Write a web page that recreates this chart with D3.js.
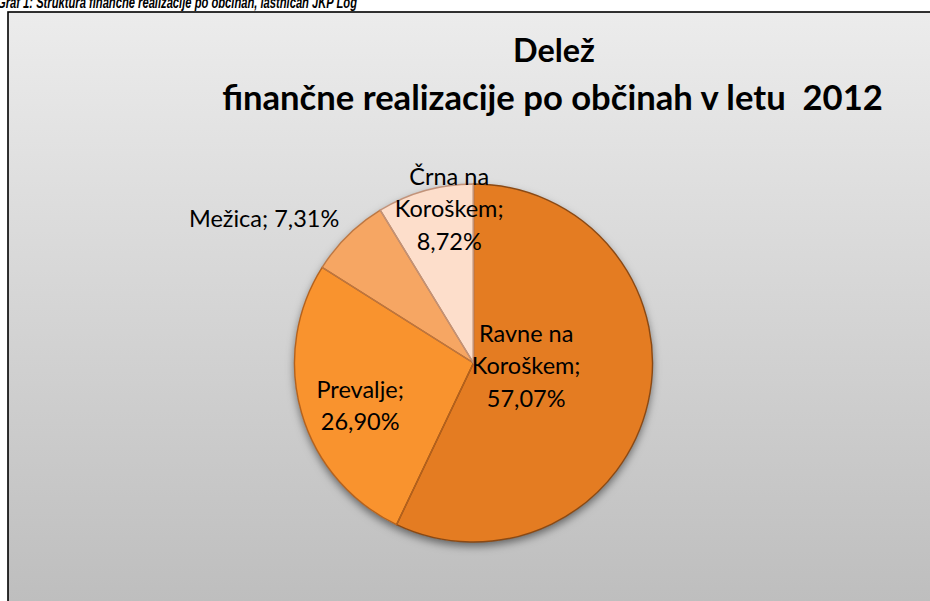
<!DOCTYPE html>
<html>
<head>
<meta charset="utf-8">
<script src="https://cdn.jsdelivr.net/npm/d3@7"></script>
<style>
  html, body { margin: 0; padding: 0; background: #fff; overflow: hidden; }
  svg { display: block; }
</style>
</head>
<body>
<div id="chart"></div>
<script>
// ---- data ----
const caption = "Graf 1: Struktura finančne realizacije po občinah, lastnicah JKP Log";
const titleLines = ["Delež", "finančne realizacije po občinah v letu  2012"];
const categories = ["Ravne na Koroškem", "Prevalje", "Mežica", "Črna na Koroškem"];
const values = [57.07, 26.90, 7.31, 8.72];

// ---- styles / layout ----
const W = 930, H = 601;
const cx = 473.5, cy = 363, R = 179;
const sliceTop = ["#e47b24", "#f9932f", "#f6a663", "#fddecb"];
const sliceBottom = ["#a5541a", "#d77824", "#e8904c", "#eeb392"];
const sliceEdge = ["#8a4914", "#b5621d", "#bd7742", "#c2937a"];
const labelWrap = [[2, 1, 1], [1, 1], [2], [2, 1, 1]];
const labelRadius = [54, 118, 250, 160];
const labelShift = [[0, -9], [0, 10], [-34, 34], [19, 0]];
const labelFont = 23.5, labelLineH = 32.5;

const fmt = v => d3.format(".2f")(v).replace(".", ",") + "%";

const svg = d3.select("#chart").append("svg").attr("width", W).attr("height", H);
const defs = svg.append("defs");

const bg = defs.append("linearGradient").attr("id", "bg")
  .attr("gradientUnits", "userSpaceOnUse").attr("x1", 0).attr("y1", 12).attr("x2", 0).attr("y2", H);
bg.append("stop").attr("offset", 0).attr("stop-color", "#ececec");
bg.append("stop").attr("offset", 1).attr("stop-color", "#bebebe");

const sh = defs.append("filter").attr("id", "shadow").attr("x", "-20%").attr("y", "-20%").attr("width", "140%").attr("height", "140%");
sh.append("feDropShadow").attr("dx", 0).attr("dy", 4).attr("stdDeviation", 4)
  .attr("flood-color", "#000").attr("flood-opacity", 0.5);

categories.forEach((c, i) => {
  const g = defs.append("linearGradient").attr("id", "sg" + i)
    .attr("gradientUnits", "userSpaceOnUse").attr("x1", 0).attr("y1", cy - R).attr("x2", 0).attr("y2", cy + R);
  g.append("stop").attr("offset", 0).attr("stop-color", sliceTop[i]);
  g.append("stop").attr("offset", 1).attr("stop-color", sliceBottom[i]);
});

// caption
svg.append("text").attr("x", -3).attr("y", 7.5)
  .attr("font-family", "'Liberation Sans', Arial, sans-serif")
  .attr("font-weight", "bold").attr("font-style", "italic").attr("font-size", 17)
  .attr("textLength", 360).attr("lengthAdjust", "spacingAndGlyphs")
  .attr("fill", "#000").text(caption);

// chart frame
svg.append("rect").attr("x", 8).attr("y", 12).attr("width", W + 20).attr("height", H)
  .attr("fill", "url(#bg)").attr("stroke", "#000").attr("stroke-width", 1.6);

// title
const titleG = svg.append("g").attr("font-family", "Lato, 'Open Sans', sans-serif")
  .attr("font-weight", "bold").attr("fill", "#000").attr("text-anchor", "middle")
  .style("white-space", "pre");
const tw = [82, 661];
const tx = [554, 552.5];
const ty = [62, 110];
titleLines.forEach((t, i) => {
  const el = titleG.append("text").attr("x", tx[i]).attr("y", ty[i]).attr("font-size", 30)
    .attr("xml:space", "preserve").text(t);
  const w = el.node().getComputedTextLength();
  el.attr("font-size", 30 * tw[i] / w);
});

// pie
const pie = d3.pie().sort(null).value(d => d.value);
const arcs = pie(categories.map((c, i) => ({ name: c, value: values[i], i })));
const arc = d3.arc().innerRadius(0).outerRadius(R);

const pieG = svg.append("g").attr("transform", `translate(${cx},${cy})`);
pieG.append("g").attr("filter", "url(#shadow)")
  .selectAll("path").data(arcs).join("path")
  .attr("d", arc).attr("fill", (d, i) => `url(#sg${i})`);

// bevel highlights
arcs.forEach((d, i) => {
  defs.append("clipPath").attr("id", "clip" + i).append("path")
    .attr("d", arc(d)).attr("transform", `translate(${cx},${cy})`);
});
const bevelG = svg.append("g");
arcs.forEach((d, i) => {
  bevelG.append("path").attr("clip-path", `url(#clip${i})`)
    .attr("transform", `translate(${cx},${cy})`)
    .attr("d", arc(d)).attr("fill", "none")
    .attr("stroke", "#fff").attr("stroke-opacity", 0.22).attr("stroke-width", 7);
});
pieG.append("g").selectAll("path").data(arcs).join("path")
  .attr("d", arc).attr("fill", "none")
  .attr("stroke", (d, i) => sliceEdge[i]).attr("stroke-width", 1.4);

// labels
const labelG = svg.append("g").attr("font-family", "Lato, 'Open Sans', sans-serif")
  .attr("font-size", labelFont).attr("fill", "#000").attr("text-anchor", "middle");
arcs.forEach((d, i) => {
  const tokens = (categories[i] + ";").split(" ").concat([fmt(values[i])]);
  const lines = [];
  let k = 0;
  labelWrap[i].forEach(n => { lines.push(tokens.slice(k, k + n).join(" ")); k += n; });
  const a = (d.startAngle + d.endAngle) / 2;
  const x = cx + Math.sin(a) * labelRadius[i] + labelShift[i][0];
  const y = cy - Math.cos(a) * labelRadius[i] + labelShift[i][1];
  const t = labelG.append("text");
  lines.forEach((ln, j) => {
    t.append("tspan").attr("x", x)
      .attr("y", y + (j - (lines.length - 1) / 2) * labelLineH + 0.35 * labelFont)
      .text(ln);
  });
});
</script>
</body>
</html>
